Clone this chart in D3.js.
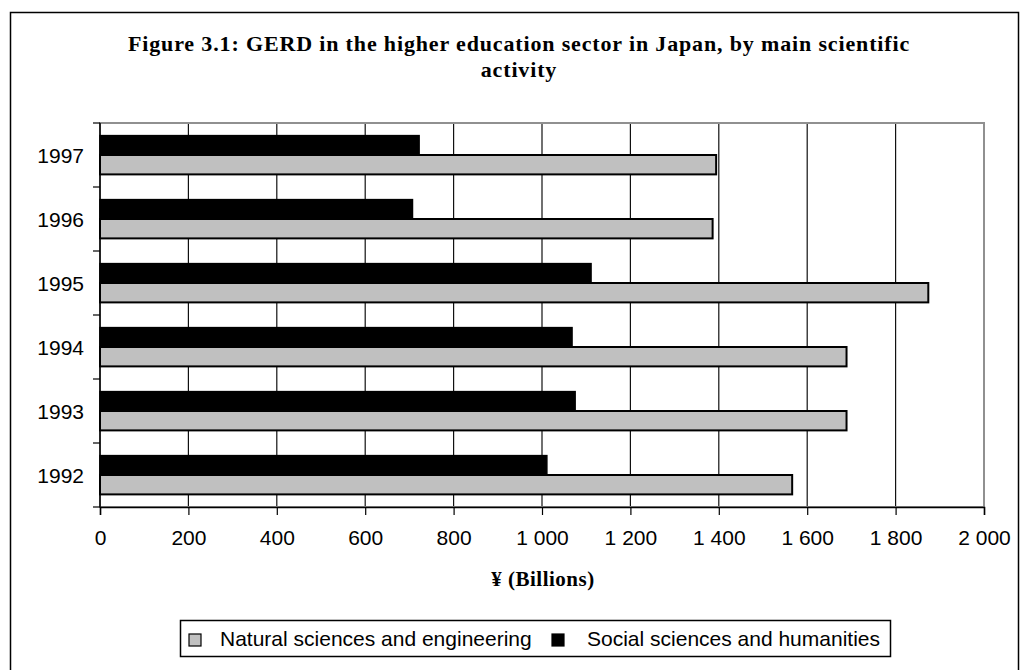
<!DOCTYPE html>
<html>
<head>
<meta charset="utf-8">
<script src="https://cdn.jsdelivr.net/npm/d3@7"></script>
<style>
  html, body { margin: 0; padding: 0; background: #fff; }
  svg { display: block; }
</style>
</head>
<body>
<svg id="chart" width="1029" height="670"></svg>
<script>
// Years shown on the category axis (bottom to top: 1992 .. 1997)
const years = ["1992", "1993", "1994", "1995", "1996", "1997"];
// GERD, ¥ billions
const naturalSciences = [1566, 1689, 1689, 1874, 1386, 1394];
const socialSciences  = [1011, 1075, 1068, 1111, 707, 722];
const seriesNames = ["Natural sciences and engineering", "Social sciences and humanities"];
const seriesColors = ["#c0c0c0", "#000000"];
const xTicks = [0, 200, 400, 600, 800, 1000, 1200, 1400, 1600, 1800, 2000];
const xTickLabels = ["0", "200", "400", "600", "800", "1 000", "1 200", "1 400", "1 600", "1 800", "2 000"];
const titleLines = ["Figure 3.1: GERD in the higher education sector in Japan, by main scientific", "activity"];
const xTitle = "¥ (Billions)";

const svg = d3.select("#chart");
const serif = "'Liberation Serif', 'Times New Roman', serif";
const sans = "'Liberation Sans', Arial, sans-serif";

// Outer chart frame
svg.append("rect")
  .attr("x", 10.5).attr("y", 12.5).attr("width", 1008).attr("height", 660)
  .attr("fill", "none").attr("stroke", "#000").attr("stroke-width", 1.5);

// Title
svg.append("g").selectAll("text").data(titleLines).join("text")
  .attr("x", 519).attr("y", (d, i) => 51 + i * 26)
  .attr("text-anchor", "middle")
  .attr("font-family", serif).attr("font-weight", "bold").attr("font-size", 22)
  .attr("letter-spacing", 0.85)
  .text(d => d);

const plot = { left: 100, right: 984, top: 123, bottom: 507 };

const x = d3.scaleLinear().domain([0, 2000]).range([plot.left, plot.right]);
const y = d3.scaleBand().domain(years.slice().reverse()).range([plot.top, plot.bottom]);
// Two bars per year, gap between groups 130% of a bar
const barH = y.bandwidth() / 3.3;

// Vertical gridlines
svg.append("g").selectAll("line").data(xTicks.slice(1, -1)).join("line")
  .attr("x1", d => x(d)).attr("x2", d => x(d))
  .attr("y1", plot.top).attr("y2", plot.bottom)
  .attr("stroke", "#111").attr("stroke-width", 1.2);

// Plot area border
svg.append("rect")
  .attr("x", plot.left).attr("y", plot.top)
  .attr("width", plot.right - plot.left).attr("height", plot.bottom - plot.top)
  .attr("fill", "none").attr("stroke", "#909090").attr("stroke-width", 2);

// Bars: social sciences on top, natural sciences below within each year
const rows = years.map((yr, i) => ({ year: yr, values: [naturalSciences[i], socialSciences[i]] }));
const barG = svg.append("g");
rows.forEach(r => {
  const top = y(r.year) + (y.bandwidth() - 2 * barH) / 2;
  barG.append("rect")
    .attr("x", x(0)).attr("y", top)
    .attr("width", x(r.values[1]) - x(0)).attr("height", barH)
    .attr("fill", seriesColors[1]).attr("stroke", "#000").attr("stroke-width", 1.5);
  barG.append("rect")
    .attr("x", x(0)).attr("y", top + barH)
    .attr("width", x(r.values[0]) - x(0)).attr("height", barH)
    .attr("fill", seriesColors[0]).attr("stroke", "#000").attr("stroke-width", 2);
});

// Y axis with ticks between categories
const yAxisG = svg.append("g");
yAxisG.append("line")
  .attr("x1", plot.left).attr("x2", plot.left)
  .attr("y1", plot.top).attr("y2", plot.bottom)
  .attr("stroke", "#000").attr("stroke-width", 1.5);
const boundaries = d3.range(years.length + 1).map(i => plot.top + i * y.step());
yAxisG.selectAll("line.tick").data(boundaries).join("line")
  .attr("class", "tick")
  .attr("x1", plot.left - 7).attr("x2", plot.left)
  .attr("y1", d => d).attr("y2", d => d)
  .attr("stroke", "#000").attr("stroke-width", 1.2);
yAxisG.selectAll("text").data(years).join("text")
  .attr("x", 84).attr("y", d => y(d) + y.bandwidth() / 2)
  .attr("dy", "0.36em").attr("text-anchor", "end")
  .attr("font-family", sans).attr("font-size", 21)
  .text(d => d);

// X axis
const xAxis = d3.axisBottom(x).tickValues(xTicks)
  .tickFormat((d, i) => xTickLabels[i]).tickSize(8).tickPadding(0);
const xAxisG = svg.append("g").attr("transform", `translate(0,${plot.bottom})`).call(xAxis);
xAxisG.select(".domain").attr("stroke", "#000").attr("stroke-width", 1.5);
xAxisG.selectAll(".tick line").attr("stroke", "#000").attr("stroke-width", 1.2);
xAxisG.selectAll(".tick text")
  .attr("y", 38).attr("dy", null)
  .attr("font-family", sans).attr("font-size", 21).attr("fill", "#000");

// X axis title
svg.append("text")
  .attr("x", 543).attr("y", 586)
  .attr("text-anchor", "middle")
  .attr("font-family", serif).attr("font-weight", "bold").attr("font-size", 21)
  .attr("letter-spacing", 0.5)
  .text(xTitle);

// Legend
const legend = svg.append("g");
legend.append("rect")
  .attr("x", 180.5).attr("y", 620.5).attr("width", 710).attr("height", 36)
  .attr("fill", "#fff").attr("stroke", "#000").attr("stroke-width", 1.5);
const legendItems = [
  { name: seriesNames[0], color: seriesColors[0], sx: 189, tx: 220 },
  { name: seriesNames[1], color: seriesColors[1], sx: 552, tx: 587 }
];
legendItems.forEach(it => {
  legend.append("rect")
    .attr("x", it.sx).attr("y", 634).attr("width", 12).attr("height", 12)
    .attr("fill", it.color).attr("stroke", "#000").attr("stroke-width", 1.2);
  legend.append("text")
    .attr("x", it.tx).attr("y", 646)
    .attr("font-family", sans).attr("font-size", 21)
    .text(it.name);
});
</script>
</body>
</html>
